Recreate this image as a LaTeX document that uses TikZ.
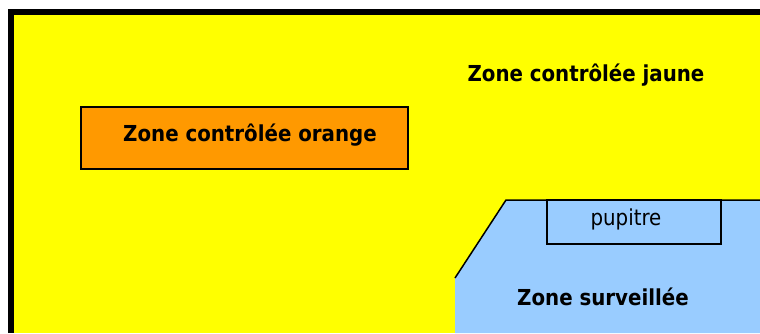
\documentclass[tikz,border=0pt]{standalone}
\usepackage{fontspec}
\setmainfont{DejaVu Sans}
\newfontfamily\zonefont{DejaVu Sans Condensed}
\usepackage{xcolor}
\definecolor{jaune}{HTML}{FFFF00}
\definecolor{orangez}{HTML}{FF9900}
\definecolor{bleu}{HTML}{99CCFF}
\tikzset{zonetext/.style={font=\zonefont\bfseries\fontsize{22}{26}\selectfont}}

\begin{document}
\begin{tikzpicture}[x=1pt,y=-1pt]
  \useasboundingbox (0,0) rectangle (760,333);
  % zone jaune
  \fill[jaune] (10.5,12) rectangle (760,333);
  \draw[line width=6pt] (10.5,333) -- (10.5,12) -- (760,12);
  \node[zonetext] (jaune) at (586,75) {Zone contrôlée jaune};
  % zone orange
  \draw[fill=orangez,line width=1.5pt] (81,107) rectangle (408,169);
  \node[zonetext] (orange) at (250,135) {Zone contrôlée orange};
  % zone surveillee
  \fill[bleu] (506,200) -- (760,200) -- (760,333) -- (455,333) -- (455,278) -- cycle;
  \draw[line width=1.5pt] (455,278) -- (506,200) -- (760,200);
  \draw[line width=1.5pt] (547,200) rectangle (721,244);
  \node[font=\zonefont\fontsize{22}{26}\selectfont] (pupitre) at (626,219) {pupitre};
  \node[zonetext] (surv) at (603,297) {Zone surveillée};
\end{tikzpicture}
\end{document}
